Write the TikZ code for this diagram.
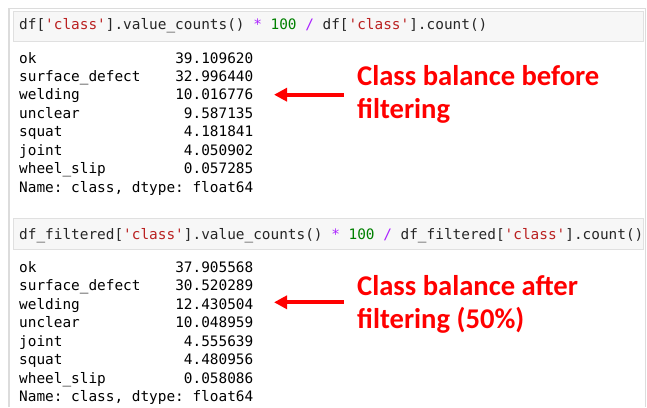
\documentclass[tikz,border=0pt]{standalone}
\usepackage{fontspec}
\setmonofont{DejaVu Sans Mono}
\newfontfamily\notefont{Carlito}
\usetikzlibrary{arrows.meta}

\definecolor{frameline}{HTML}{DCDCDC}
\definecolor{cellfill}{HTML}{F7F7F7}
\definecolor{cellline}{HTML}{E0E0E0}
\definecolor{pystr}{HTML}{BA2121}
\definecolor{pynum}{HTML}{008000}
\definecolor{pyop}{HTML}{AA22FF}
\definecolor{notered}{HTML}{FF0000}

\newcommand{\qs}[1]{\textcolor{pystr}{'#1'}}
\newcommand{\pnum}[1]{\textcolor{pynum}{#1}}
\newcommand{\pop}[1]{\textcolor{pyop}{#1}}

\tikzset{
  cellbox/.style={fill=cellfill, draw=cellline, line width=1pt},
  codeline/.style={anchor=base west, inner sep=0pt, font=\ttfamily\fontsize{14.4}{16}\selectfont, text=black!85},
  outname/.style={anchor=base west, inner sep=0pt, font=\ttfamily\fontsize{14.4}{16}\selectfont},
  outval/.style={anchor=base east, inner sep=0pt, font=\ttfamily\fontsize{14.4}{16}\selectfont},
  notetext/.style={anchor=base west, inner sep=0pt, align=left, text=notered,
    font=\notefont\bfseries\fontsize{28.6}{33.3}\selectfont},
  notearrow/.style={draw=notered, line width=4pt,
    -{Triangle[length=13pt,width=13pt]}}
}

\begin{document}
\begin{tikzpicture}[x=1pt,y=-1pt]
  \useasboundingbox (0,0) rectangle (647,407);

  % notebook frame
  \draw[frameline, line width=1.5pt] (9,407) -- (9,8.5) -- (645.5,8.5) -- (645.5,407);

  % first cell
  \draw[cellbox] (13,11) rectangle (643.5,41.5);
  \node[codeline] (code1) at (19,29.5)
    {df[\qs{class}].value\_counts() \pop{*} \pnum{100} \pop{/} df[\qs{class}].count()};

  \foreach \nm/\val [count=\i from 0] in
    {ok/39.109620, surface\_defect/32.996440, welding/10.016776, unclear/9.587135,
     squat/4.181841, joint/4.050902, wheel\_slip/0.057285}
  {
    \node[outname] (na\i) at (19,63+18.45*\i) {\nm};
    \node[outval] (va\i) at (253.5,63+18.45*\i) {\val};
  }
  \node[outname] (infoa) at (19,192.2) {Name: class, dtype: float64};

  % second cell
  \draw[cellbox] (13,218) rectangle (643.5,249);
  \node[codeline] (code2) at (19,239.5)
    {df\_filtered[\qs{class}].value\_counts() \pop{*} \pnum{100} \pop{/} df\_filtered[\qs{class}].count()};

  \foreach \nm/\val [count=\i from 0] in
    {ok/37.905568, surface\_defect/30.520289, welding/12.430504, unclear/10.048959,
     joint/4.555639, squat/4.480956, wheel\_slip/0.058086}
  {
    \node[outname] (nb\i) at (19,272.5+18.45*\i) {\nm};
    \node[outval] (vb\i) at (253.5,272.5+18.45*\i) {\val};
  }
  \node[outname] (infob) at (19,401.7) {Name: class, dtype: float64};

  % annotations (anchored on the baseline of their last line)
  \node[notetext] (note1) at (357,118.3) {Class balance before\\filtering};
  \node[notetext] (note2) at (357,328.3) {Class balance after\\filtering (50\%)};

  \coordinate (tail1) at (343.5,94.7);
  \coordinate (tip1) at (274,94.7);
  \coordinate (tail2) at (343.5,302.3);
  \coordinate (tip2) at (274,302.3);
  \draw[notearrow] (tail1) -- (tip1);
  \draw[notearrow] (tail2) -- (tip2);
\end{tikzpicture}
\end{document}
